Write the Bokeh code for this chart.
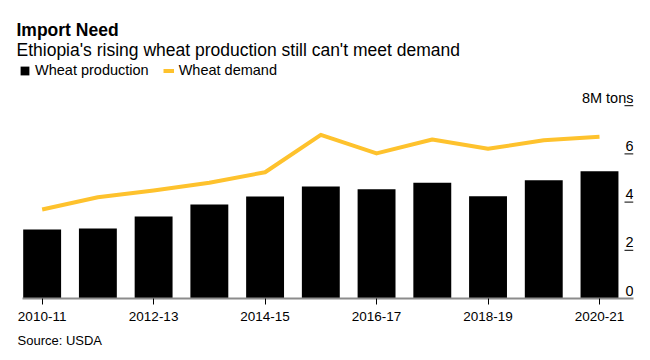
import math
from bokeh.plotting import figure
from bokeh.models import (Range1d, FixedTicker, Label, Legend, LegendItem, Title)
from bokeh.core.properties import value
from bokeh.embed import file_html
from bokeh.resources import INLINE

# ---- data ----
seasons = ["2010-11", "2011-12", "2012-13", "2013-14", "2014-15", "2015-16",
           "2016-17", "2017-18", "2018-19", "2019-20", "2020-21"]
production = [2.86, 2.90, 3.40, 3.90, 4.23, 4.65, 4.53, 4.80, 4.24, 4.91, 5.28]
demand = [3.69, 4.20, 4.48, 4.80, 5.24, 6.79, 6.02, 6.60, 6.21, 6.57, 6.71]
y_tick_values = [0, 2, 4, 6, 8]
y_tick_labels = ["0", "2", "4", "6", "8M tons"]
y_tick_marks = [2, 4, 6, 8]

FONT = "Liberation Sans"
YELLOW = "#FEC22D"

idx = list(range(len(seasons)))
x_start = -0.496
x_line_start = -0.35
x_end = len(seasons) - 1 + 0.61

p = figure(width=650, height=360, output_backend="svg", toolbar_location=None,
           x_range=Range1d(x_start, x_end), y_range=Range1d(0, 12.365),
           y_axis_location=None, title_location=None,
           min_border_left=14, min_border_right=17, min_border_top=0,
           min_border_bottom=62)
p.outline_line_color = None
p.xgrid.visible = False
p.ygrid.visible = False
p.background_fill_color = "white"
p.border_fill_color = "white"

bars = p.vbar(x=idx, top=production, width=0.68, fill_color="black", line_color=None)
line = p.line(x=idx, y=demand, line_color=YELLOW, line_width=4, line_join="round")

# x axis
xa = p.xaxis[0]
xa.bounds = (x_line_start, x_end)
xa.ticker = FixedTicker(ticks=idx[::2])
xa.major_label_overrides = {i: seasons[i] for i in idx[::2]}
xa.axis_line_color = "#8c8c8c"
xa.axis_line_width = 2
xa.major_tick_line_color = "black"
xa.major_tick_line_width = 1
xa.major_tick_in = 0
xa.major_tick_out = 6
xa.minor_tick_line_color = None
xa.major_label_standoff = 7
xa.major_label_text_font = FONT
xa.major_label_text_font_size = "13.5px"
xa.major_label_text_color = "black"

# right-hand value ticks: short marks reaching in from the frame's right edge
p.ray(x=[x_end] * len(y_tick_marks), y=y_tick_marks, length=9, length_units="screen",
      angle=math.pi, line_color="black", line_width=1)

# y tick labels sit above their tick marks
p.text(x=[x_end] * len(y_tick_values), y=y_tick_values, text=y_tick_labels,
       text_align="right", text_baseline="alphabetic", y_offset=-8,
       text_font=value(FONT), text_font_size="14.5px", text_color="black")

# legend
legend = Legend(items=[LegendItem(label="Wheat production", renderers=[bars]),
                       LegendItem(label="Wheat demand", renderers=[line])],
                orientation="horizontal", location=(5, 220),
                glyph_width=11, glyph_height=11, label_standoff=5, spacing=14,
                padding=0, margin=0, background_fill_alpha=0, border_line_color=None,
                label_text_font=FONT, label_text_font_size="14.5px",
                label_text_color="black")
p.add_layout(legend, "center")

# titles (inside the frame's top area)
p.add_layout(Label(x=2, y=269, x_units="screen", y_units="screen", text="Import Need",
                   text_font=FONT, text_font_size="17.5px", text_font_style="bold",
                   text_color="black", text_baseline="alphabetic"))
p.add_layout(Label(x=2, y=249, x_units="screen", y_units="screen",
                   text="Ethiopia's rising wheat production still can't meet demand",
                   text_font=FONT, text_font_size="17.5px", text_color="black",
                   text_baseline="alphabetic"))

# source below the axis
src = Title(text="Source: USDA", align="left", offset=3, standoff=14,
            text_font=FONT, text_font_size="13px", text_font_style="normal",
            text_color="black")
p.add_layout(src, "below")

open("out.html", "w").write(file_html(p, INLINE))
